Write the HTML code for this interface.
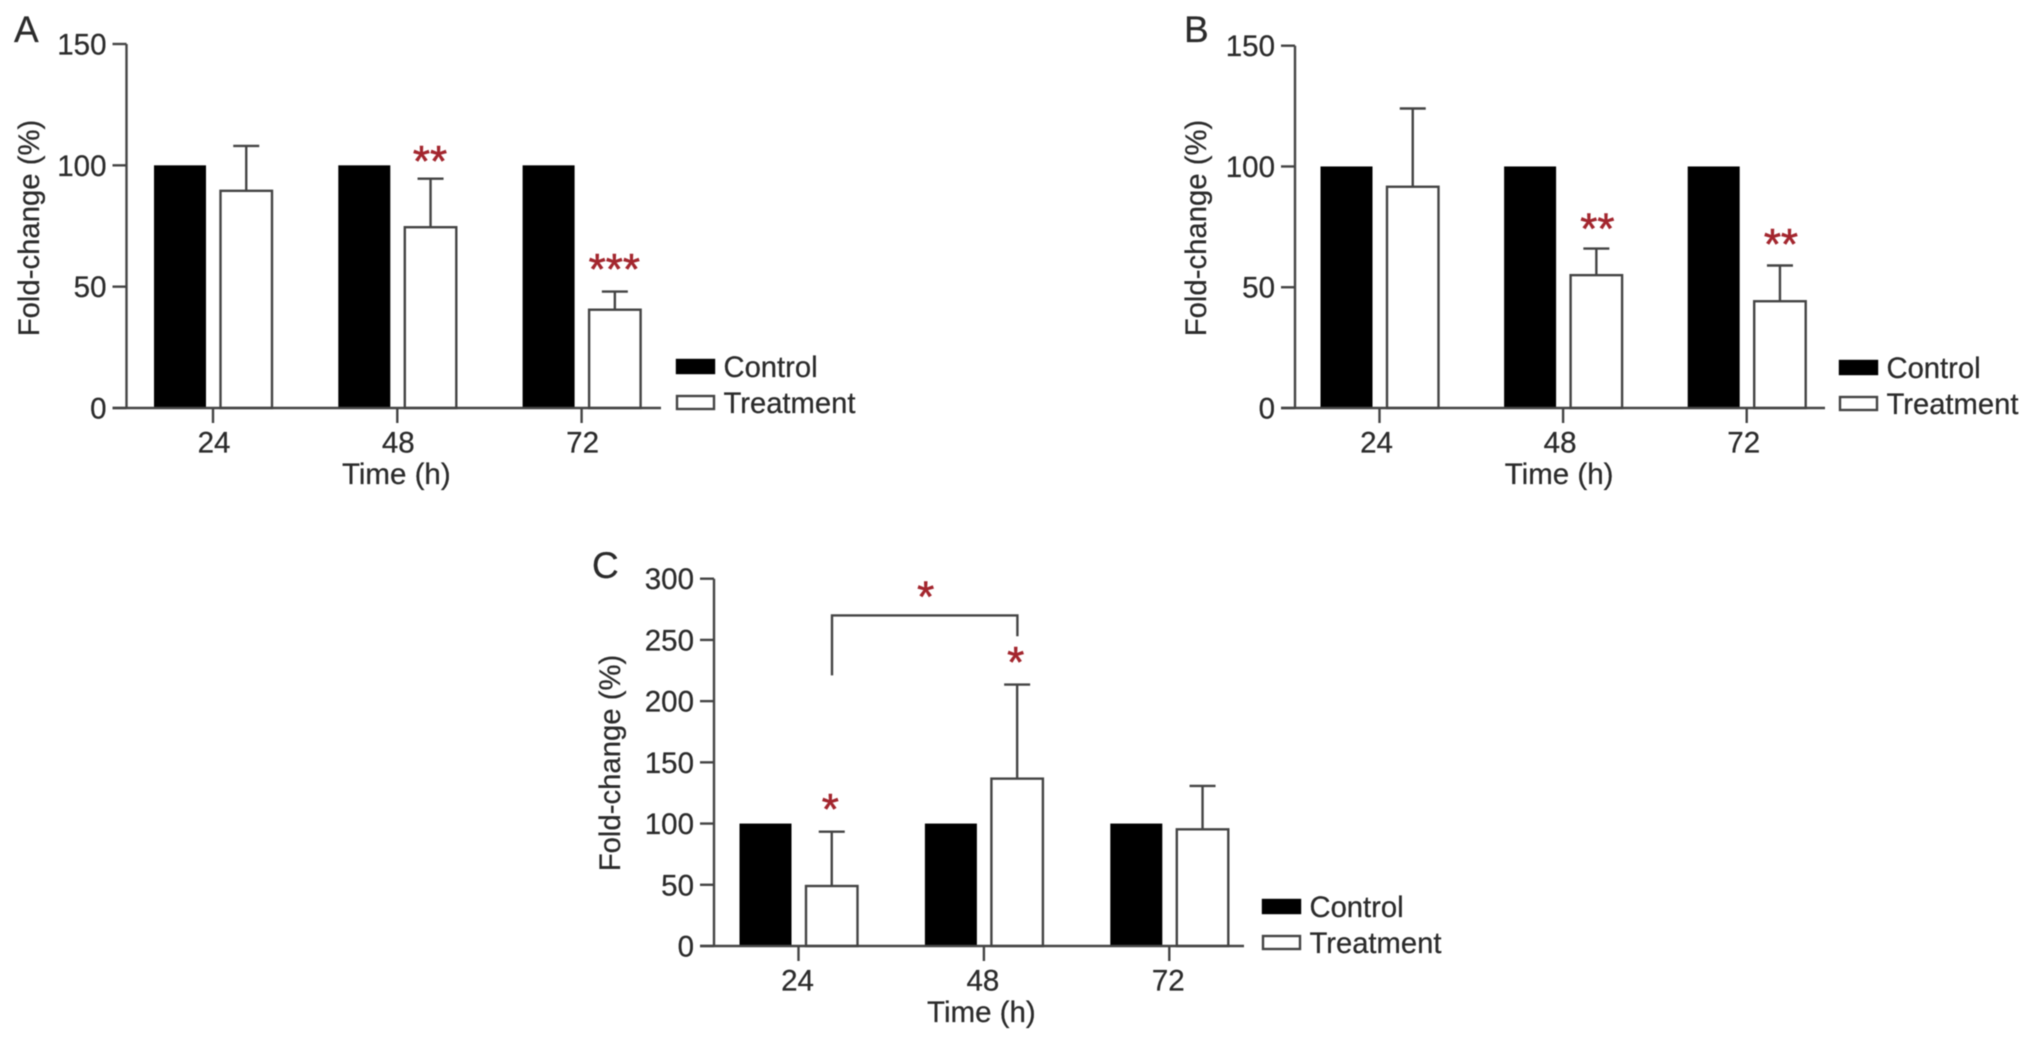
<!DOCTYPE html>
<html>
<head>
<meta charset="utf-8">
<title>Fold-change bar charts</title>
<style>
html,body{margin:0;padding:0;background:#fff;width:2031px;height:1049px;overflow:hidden}
#chart{display:block;filter:blur(0.6px)}
text{font-family:"Liberation Sans",sans-serif;fill:#2b2b2b;stroke:#2b2b2b;stroke-width:0.25px}
</style>
</head>
<body>
<svg id="chart" width="2031" height="1049" viewBox="0 0 2031 1049" xmlns="http://www.w3.org/2000/svg"></svg>
<script>
const categories = ["24", "48", "72"];
const ticksAB = [0, 50, 100, 150];
const ticksC = [0, 50, 100, 150, 200, 250, 300];
const controlA = [100, 100, 100];
const treatmentA = [89.5, 74.5, 40.5];
const errorTopA = [108, 94.5, 48];
const starsA = ["", "**", "***"];
const controlB = [100, 100, 100];
const treatmentB = [91.6, 55, 44.2];
const errorTopB = [124, 66, 59];
const starsB = ["", "**", "**"];
const controlC = [100, 100, 100];
const treatmentC = [49, 136.7, 95.3];
const errorTopC = [93.4, 213.5, 130.7];
const starsC = ["*", "*", ""];
const bracketValuesC = [221, 270, 253];
const legendLabels = ["Control", "Treatment"];

const svg = document.getElementById('chart');
const NS = 'http://www.w3.org/2000/svg';
const LINE = '#444';
const SW = 2.4;
const STAR = 'fill:#a3262e;stroke:#a3262e;stroke-width:0.6px';

function el(tag, attrs, text) {
  const e = document.createElementNS(NS, tag);
  for (const k in attrs) e.setAttribute(k, attrs[k]);
  if (text !== undefined) e.textContent = text;
  return e;
}

function drawPanel(p) {
  const g = el('g', {});
  
  
  svg.appendChild(g);

  const y = v => p.y0 - (v / p.yMax) * (p.y0 - p.yTop);
  const cx = i => p.g0 + i * p.step;

  const letter = el('text', {x: p.letterX, y: p.letterY, 'font-size': 37}, p.id);
  
  
  g.appendChild(letter);

  const yAxis = el('line', {x1: p.axisX, x2: p.axisX, y1: y(p.yMax), y2: p.y0, stroke: LINE, 'stroke-width': SW});
  
  
  g.appendChild(yAxis);

  p.ticks.forEach(t => {
    const tick = el('line', {x1: p.axisX - 14, x2: p.axisX, y1: y(t), y2: y(t), stroke: LINE, 'stroke-width': SW});
    
    
    g.appendChild(tick);
    const lab = el('text', {x: p.axisX - 20, y: y(t) + 10.5, 'font-size': 29.5, 'text-anchor': 'end'}, t);
    
    
    g.appendChild(lab);
  });

  const yTitle = el('text', {transform: 'translate(' + (p.axisX - 86 + p.yTitleShift) + ' ' + p.yTitleY + ') rotate(-90)', 'font-size': 29.3, 'text-anchor': 'middle'}, 'Fold-change (%)');
  
  
  g.appendChild(yTitle);

  categories.forEach((c, i) => {
    const wc = 52;
    const wt = 51.5;
    const ctrl = el('rect', {x: cx(i) - 59, y: y(p.control[i]), width: wc, height: p.y0 - y(p.control[i]), fill: '#000'});
    
    
    g.appendChild(ctrl);

    const tx = cx(i) + 7.5;
    const errLine = el('line', {x1: tx + wt / 2, x2: tx + wt / 2, y1: y(p.treatment[i]), y2: y(p.err[i]), stroke: LINE, 'stroke-width': SW});
    
    
    g.appendChild(errLine);
    const errCap = el('line', {x1: tx + wt / 2 - 13, x2: tx + wt / 2 + 13, y1: y(p.err[i]), y2: y(p.err[i]), stroke: LINE, 'stroke-width': SW});
    
    
    g.appendChild(errCap);

    const trt = el('rect', {x: tx, y: y(p.treatment[i]), width: wt, height: p.y0 - y(p.treatment[i]), fill: '#fff', stroke: LINE, 'stroke-width': SW});
    
    
    g.appendChild(trt);

    if (p.stars[i]) {
      const star = el('text', {x: tx + wt / 2 - 0.5 + p.starDx, y: y(p.err[i]) - 7.5 + (p.starDy[i] || 0), 'font-size': 44, 'text-anchor': 'middle', style: STAR}, p.stars[i]);
      
      
      g.appendChild(star);
    }

    const xt = el('line', {x1: cx(i), x2: cx(i), y1: p.y0, y2: p.y0 + 15, stroke: LINE, 'stroke-width': SW});
    
    
    g.appendChild(xt);
    const xl = el('text', {x: cx(i) + p.labelShift, y: p.y0 + 44.5, 'font-size': 29.5, 'text-anchor': 'middle'}, c);
    
    
    g.appendChild(xl);
  });

  const xAxis = el('line', {x1: p.axisX - 14, x2: p.axisRight, y1: p.y0, y2: p.y0, stroke: LINE, 'stroke-width': SW});
  
  
  g.appendChild(xAxis);

  const xTitle = el('text', {x: cx(1) - 1 + p.titleShift, y: p.y0 + 76, 'font-size': 29.5, 'text-anchor': 'middle'}, 'Time (h)');
  
  
  g.appendChild(xTitle);

  legendLabels.forEach((name, i) => {
    const top = p.legendY + i * 36;
    const sw = el('rect', {x: p.legendX, y: top, width: 37, height: 13, fill: i === 0 ? '#000' : '#fff', stroke: i === 0 ? '#000' : LINE, 'stroke-width': SW});
    
    
    g.appendChild(sw);
    const lt = el('text', {x: p.legendX + 46.5, y: top + 17, 'font-size': 29.2}, name);
    
    
    g.appendChild(lt);
  });

  if (p.bracket) {
    const lx = cx(0) + 7.5 + 26, rx = cx(1) + 7.5 + 26;
    const path = el('polyline', {points: lx + ',' + y(p.bracket[0]) + ' ' + lx + ',' + y(p.bracket[1]) + ' ' + rx + ',' + y(p.bracket[1]) + ' ' + rx + ',' + y(p.bracket[2]), fill: 'none', stroke: LINE, 'stroke-width': SW});
    
    
    g.appendChild(path);
    const bs = el('text', {x: (lx + rx) / 2 + 1, y: y(p.bracket[1]) - 4, 'font-size': 44, 'text-anchor': 'middle', style: STAR}, '*');
    
    
    g.appendChild(bs);
  }
}

drawPanel({id: 'A', control: controlA, treatment: treatmentA, err: errorTopA, stars: starsA, ticks: ticksAB, yMax: 150,
  axisX: 126.5, axisRight: 661, y0: 408, yTop: 44, g0: 213, step: 184.3, letterX: 14, letterY: 42, yTitleShift: -1.5, yTitleY: 228, labelShift: 1, titleShift: 0, legendX: 677, legendY: 360, starDx: 0, starDy: [0, 5, 0]});
drawPanel({id: 'B', control: controlB, treatment: treatmentB, err: errorTopB, stars: starsB, ticks: ticksAB, yMax: 150,
  axisX: 1295, axisRight: 1825, y0: 408, yTop: 45.7, g0: 1379.5, step: 183.6, letterX: 1184, letterY: 42, yTitleShift: -3, yTitleY: 228, labelShift: -3, titleShift: -3, legendX: 1840, legendY: 361, starDx: 1.5, starDy: [0, 2.5, 1]});
drawPanel({id: 'C', control: controlC, treatment: treatmentC, err: errorTopC, stars: starsC, ticks: ticksC, yMax: 300, bracket: bracketValuesC,
  axisX: 714, axisRight: 1244, y0: 946, yTop: 578.7, g0: 798.5, step: 185.4, letterX: 592, letterY: 578, yTitleShift: -8, yTitleY: 763, labelShift: -1, titleShift: -1.5, legendX: 1263, legendY: 900, starDx: -1, starDy: [0, 0, 0]});
</script>
</body>
</html>
